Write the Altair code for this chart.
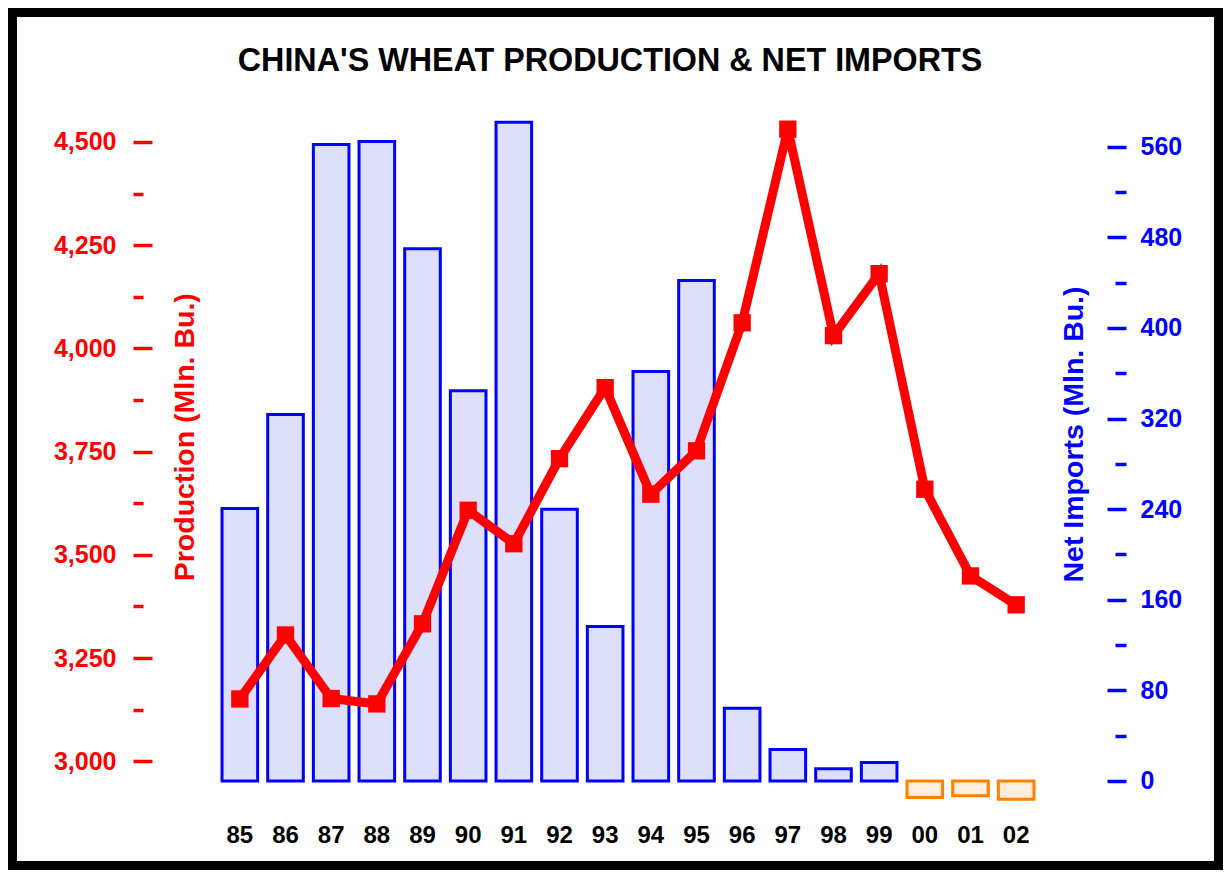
import altair as alt
import pandas as pd

years = ["85", "86", "87", "88", "89", "90", "91", "92", "93", "94",
         "95", "96", "97", "98", "99", "00", "01", "02"]
production = [3151, 3306, 3152, 3139, 3333, 3608, 3527, 3733, 3905, 3647,
              3752, 4062, 4531, 4031, 4181, 3659, 3449, 3379]
net_imports = [240.6, 323.6, 562, 564.6, 470, 344.5, 581.6, 240, 136.4, 361.5,
               441.9, 64.3, 27.8, 10.8, 16.3, -14.6, -13.1, -16.1]

left_ticks = [3000, 3125, 3250, 3375, 3500, 3625, 3750, 3875, 4000,
              4125, 4250, 4375, 4500]
right_ticks = [0, 40, 80, 120, 160, 200, 240, 280, 320, 360, 400,
               440, 480, 520, 560]

title_text = "CHINA'S WHEAT PRODUCTION & NET IMPORTS"
left_title = "Production (Mln. Bu.)"
right_title = "Net Imports (Mln. Bu.)"

df = pd.DataFrame({"year": years, "production": production, "imports": net_imports})

FONT = "Liberation Sans"
RED = "#ff0000"
BLUE = "#0000ff"
ORANGE = "#ff8000"

W, H = 822, 695
PAD = {"left": 209, "top": 102, "right": 184, "bottom": 65}

x_enc = alt.X(
    "year:N", sort=years,
    scale=alt.Scale(paddingInner=0.22, paddingOuter=0.11),
    axis=alt.Axis(title=None, labelAngle=0, domain=False, ticks=False, tickSize=0,
                  labelFont=FONT, labelFontSize=24, labelFontWeight="bold",
                  labelColor="#000000", labelBaseline="alphabetic", labelPadding=37),
)

bars = alt.Chart(df).mark_bar(strokeWidth=3).encode(
    x=x_enc,
    y=alt.Y(
        "imports:Q",
        scale=alt.Scale(domain=[-21.2, 592.4], nice=False, zero=False),
        axis=alt.Axis(
            orient="right", values=right_ticks, offset=68, domain=False, grid=False,
            labelExpr="datum.value % 80 === 0 ? format(datum.value, 'd') : ''",
            tickSize=19, tickWidth=3.5, tickColor=BLUE,
            tickDash={"condition": {"test": "datum.value % 80 !== 0", "value": [0, 8, 11, 0]},
                      "value": []},
            labelColor=BLUE, labelFont=FONT, labelFontSize=25, labelFontWeight="bold",
            labelPadding=14, labelOverlap=False,
            title=right_title, titleColor=BLUE, titleFont=FONT, titleFontSize=28.5,
            titleFontWeight="bold", titleAngle=270, titleX=-25, titleY=324,
            titleAlign="center", titleBaseline="alphabetic",
        ),
    ),
    fill=alt.condition(alt.datum.imports < 0, alt.value("#ffeedd"), alt.value("#dddffb")),
    stroke=alt.condition(alt.datum.imports < 0, alt.value(ORANGE), alt.value(BLUE)),
)

line = alt.Chart(df).mark_line(
    color=RED, strokeWidth=9,
    point=alt.OverlayMarkDef(shape="square", size=300, filled=True, color=RED, opacity=1),
).encode(
    x=x_enc,
    y=alt.Y(
        "production:Q",
        scale=alt.Scale(domain=[2894.2, 4577.4], nice=False, zero=False),
        axis=alt.Axis(
            orient="left", values=left_ticks, offset=65, domain=False, grid=False,
            labelExpr="datum.value % 250 === 0 ? format(datum.value, ',') : ''",
            tickSize=19, tickWidth=3.5, tickColor=RED,
            tickDash={"condition": {"test": "datum.value % 250 !== 0", "value": [0, 9, 10, 0]},
                      "value": []},
            labelColor=RED, labelFont=FONT, labelFontSize=25, labelFontWeight="bold",
            labelPadding=17, labelOverlap=False,
            title=left_title, titleColor=RED, titleFont=FONT, titleFontSize=28.5,
            titleFontWeight="bold", titleAngle=270, titleX=41, titleY=326.7,
            titleAlign="center", titleBaseline="alphabetic",
        ),
    ),
)

frame = alt.Chart(alt.Data(values=[{"k": 1}])).mark_rect(
    filled=False, stroke="#000000", strokeWidth=9
).encode(
    x=alt.value(-204.5), x2=alt.value(1001.5),
    y=alt.value(-97.5), y2=alt.value(755.5),
)

chart = alt.layer(bars, line, frame).resolve_scale(y="independent").properties(
    width=W, height=H,
    autosize=alt.AutoSizeParams(type="none"),
    padding=PAD,
    background="#ffffff",
    title=alt.TitleParams(
        title_text, font=FONT, fontSize=32.3, fontWeight="bold", color="#000000",
        anchor="middle", frame="group", dx=-18, offset=-95.5, baseline="alphabetic",
    ),
).configure_view(stroke=None)

chart.save("out.html", embed_options={"renderer": "svg", "actions": False})
